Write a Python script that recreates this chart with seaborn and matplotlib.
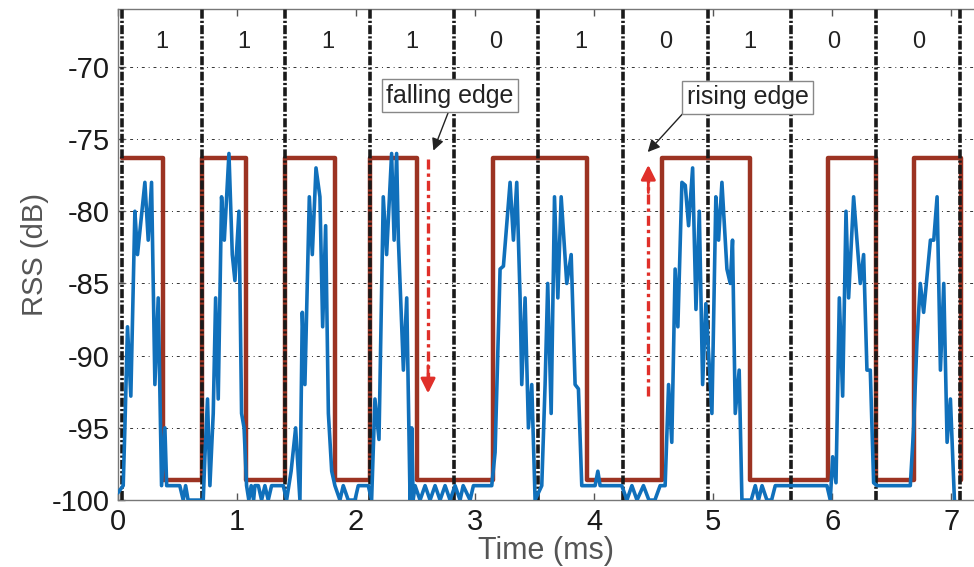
import numpy as np
import pandas as pd
import matplotlib
matplotlib.use("Agg")
import matplotlib.pyplot as plt
import seaborn as sns

# measured RSS trace (ms, dB)
rss_t = [0.000, 0.045, 0.059, 0.081, 0.109, 0.143, 0.165, 0.227, 0.255, 0.283,
         0.311, 0.339, 0.367, 0.395, 0.410, 0.520, 0.549, 0.569, 0.590, 0.700,
         0.717, 0.731, 0.753, 0.773, 0.801, 0.821, 0.843, 0.871, 0.894, 0.933,
         0.961, 0.983, 1.017, 1.039, 1.060, 1.081, 1.100, 1.120, 1.140, 1.151,
         1.180, 1.207, 1.235, 1.263, 1.291, 1.389,
         1.417, 1.455, 1.493, 1.529, 1.549, 1.571, 1.608, 1.633, 1.664, 1.697,
         1.720, 1.745, 1.768, 1.796, 1.823, 1.865, 1.893, 1.935, 1.991, 2.019,
         2.103, 2.131,
         2.159, 2.193, 2.229, 2.257, 2.299, 2.320, 2.341, 2.356, 2.398, 2.426,
         2.454, 2.468, 2.480, 2.496, 2.538, 2.580, 2.622, 2.664, 2.706, 2.748,
         2.790, 2.832, 2.874, 2.900, 2.958, 2.986, 3.140,
         3.168, 3.210, 3.238, 3.294, 3.322, 3.350, 3.378, 3.392, 3.420, 3.448,
         3.476, 3.504, 3.560, 3.588, 3.610, 3.639, 3.667, 3.695, 3.723, 3.770,
         3.807, 3.840, 3.868, 3.896, 4.008, 4.031, 4.050, 4.232, 4.275, 4.317,
         4.360, 4.414, 4.460, 4.510, 4.554, 4.596,
         4.625, 4.652, 4.680, 4.703, 4.737, 4.765, 4.793, 4.827, 4.855, 4.883,
         4.911, 4.938, 4.989, 5.022, 5.045, 5.073, 5.115, 5.143, 5.162, 5.185,
         5.218, 5.241, 5.319, 5.353, 5.380, 5.410, 5.451, 5.490, 5.521, 5.955,
         5.983, 6.003, 6.031, 6.059, 6.087, 6.115, 6.137, 6.179, 6.235, 6.263,
         6.291, 6.319, 6.347, 6.375, 6.655,
         6.683, 6.711, 6.739, 6.767, 6.824, 6.852, 6.880, 6.908, 6.936, 6.964,
         6.992, 7.028]
rss_db = [-99.5, -99.0, -95.0, -88.0, -92.8, -80.0, -83.0, -78.0, -82.0, -78.0,
          -92.0, -86.0, -99.0, -95.0, -99.0, -99.0, -100.0, -99.0, -100.0, -100.0,
          -100.0, -97.0, -93.0, -99.0, -94.0, -86.0, -93.0, -79.0, -82.0, -76.0,
          -83.0, -84.8, -80.0, -94.0, -95.0, -99.0, -100.0, -99.0, -100.0, -99.0,
          -99.0, -100.0, -99.0, -100.0, -99.0, -99.0,
          -100.0, -98.0, -95.0, -100.0, -87.0, -92.0, -79.0, -83.0, -77.0, -79.0,
          -88.0, -81.0, -94.0, -98.0, -99.0, -100.0, -99.0, -100.0, -100.0, -99.0,
          -99.0, -100.0,
          -93.0, -95.8, -79.0, -83.0, -76.0, -82.0, -76.0, -82.0, -91.0, -86.0,
          -100.0, -95.0, -100.0, -99.0, -100.0, -99.0, -100.0, -99.0, -100.0, -99.0,
          -100.0, -99.0, -100.0, -99.0, -100.0, -99.0, -99.0,
          -96.7, -84.0, -83.8, -78.0, -82.0, -78.0, -86.0, -92.0, -86.0, -95.0,
          -92.0, -100.0, -99.0, -92.0, -85.0, -94.0, -79.0, -86.0, -79.0, -85.0,
          -83.0, -92.0, -92.3, -99.0, -99.0, -98.0, -99.0, -99.0, -100.0, -99.0,
          -100.0, -99.0, -100.0, -100.0, -99.0, -99.0,
          -92.0, -96.0, -84.0, -88.0, -78.0, -78.2, -81.0, -77.0, -86.8, -80.0,
          -92.0, -86.4, -94.0, -79.0, -82.0, -78.0, -84.0, -85.0, -82.0, -94.0,
          -91.0, -100.0, -100.0, -99.0, -100.0, -99.0, -100.0, -100.0, -99.0, -99.0,
          -100.0, -97.0, -98.8, -86.0, -92.8, -80.0, -86.0, -79.0, -85.0, -83.0,
          -91.0, -91.0, -98.8, -99.0, -99.0,
          -95.0, -89.0, -85.0, -87.0, -82.0, -82.0, -79.0, -91.0, -85.0, -96.0,
          -93.0, -100.5]

# decoded square wave: level after each edge
edge_t = [0.034, 0.38, 0.706, 1.08, 1.403, 1.82, 2.118, 2.51, 3.15, 3.94,
          4.57, 5.31, 5.96, 6.368, 6.69, 7.08]
edge_db = [-76.3, -98.6, -76.3, -98.6, -76.3, -98.6, -76.3, -98.6, -76.3, -98.6,
           -76.3, -98.6, -76.3, -98.6, -76.3, -98.6]

# bit boundaries and bits
bounds = [0.034, 0.706, 1.403, 2.118, 2.824, 3.529, 4.244, 4.958, 5.655, 6.370, 7.076]
bits = ["1", "1", "1", "1", "0", "1", "0", "1", "0", "0"]

blue = "#1070bb"
brown = "#9c3322"
red = "#e0302a"

sns.set_style("white")
plt.rcParams["font.family"] = ["Liberation Sans", "DejaVu Sans"]
plt.rcParams["axes.unicode_minus"] = False

fig = plt.figure(figsize=(9.74, 5.67), dpi=100)
ax = fig.add_axes([0.121, 0.118, 0.879, 0.866])

sq = pd.DataFrame({"t": edge_t, "db": edge_db})
sns.lineplot(data=sq, x="t", y="db", ax=ax, color=brown, lw=3.2,
             drawstyle="steps-post", estimator=None, sort=False, zorder=2)

for b in bounds:
    ax.axvline(b, color="#1a1a1a", lw=2.6, ls=(0, (2.5, 0.6, 0.6, 0.6)), zorder=3)

sig = pd.DataFrame({"t": rss_t, "db": rss_db})
sns.lineplot(data=sig, x="t", y="db", ax=ax, color=blue, lw=2.6,
             estimator=None, sort=False, zorder=4)

for i, s in enumerate(bits):
    ax.text((bounds[i] + bounds[i + 1]) / 2, -68.3, s, ha="center", va="center",
            fontsize=17, color="#222222")

# edge markers
ax.plot([2.605, 2.605], [-76.4, -91.5], color=red, lw=2.4, ls=(0, (3, 1.2, 1, 1.2)), zorder=5)
ax.annotate("", xy=(2.605, -92.8), xytext=(2.605, -90.5),
            arrowprops=dict(arrowstyle="-|>", color=red, lw=2, mutation_scale=22), zorder=5)
ax.plot([4.455, 4.455], [-92.8, -77.8], color=red, lw=2.4, ls=(0, (3, 1.2, 1, 1.2)), zorder=5)
ax.annotate("", xy=(4.455, -76.6), xytext=(4.455, -78.9),
            arrowprops=dict(arrowstyle="-|>", color=red, lw=2, mutation_scale=22), zorder=5)

box = dict(boxstyle="square,pad=0.18", fc="white", ec="#888888", lw=1)
ax.annotate("falling edge", xy=(2.65, -75.8), xytext=(2.79, -72.0),
            ha="center", va="center", fontsize=18, color="#222222", bbox=box,
            arrowprops=dict(arrowstyle="-|>", color="#222222", lw=1, relpos=(0.5, 0), shrinkA=0, shrinkB=0),
            zorder=6)
ax.annotate("rising edge", xy=(4.45, -75.9), xytext=(5.29, -72.1),
            ha="center", va="center", fontsize=18, color="#222222", bbox=box,
            arrowprops=dict(arrowstyle="-|>", color="#222222", lw=1, relpos=(0, 0), shrinkA=0, shrinkB=0),
            zorder=6)

ax.set_xlim(0, 7.19)
ax.set_ylim(-100, -66)
ax.set_xticks(range(0, 8))
ax.set_yticks([-100, -95, -90, -85, -80, -75, -70])
ax.yaxis.grid(True, color="#333333", lw=0.7, ls=(0, (3, 4, 1, 4)))
ax.set_axisbelow(True)
ax.tick_params(axis="both", direction="in", length=5, width=1, color="#555555",
               labelsize=21, labelcolor="#1a1a1a", pad=6, top=True, left=True, bottom=True)
for side in ["left", "top", "bottom"]:
    ax.spines[side].set_color("#777777")
    ax.spines[side].set_linewidth(1)
ax.spines["right"].set_visible(False)

ax.set_xlabel("Time (ms)", fontsize=22, color="#555555", labelpad=0)
ax.set_ylabel("RSS (dB)", fontsize=21, color="#555555", labelpad=2)

fig.savefig("out.png", dpi=100)
